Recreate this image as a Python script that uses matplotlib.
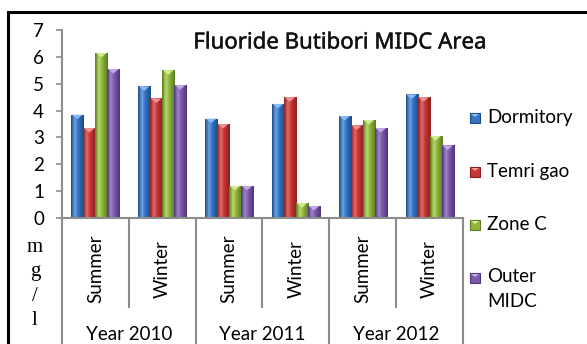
import numpy as np
import matplotlib
matplotlib.use("Agg")
import matplotlib.pyplot as plt
from matplotlib.patches import Rectangle, Polygon
from matplotlib.colors import LinearSegmentedColormap
import matplotlib.transforms as mtransforms
import matplotlib.patheffects as pe

# Fluoride concentration (mg/l) per sampling site, season and year
years = ["Year 2010", "Year 2011", "Year 2012"]
seasons = ["Summer", "Winter", "Summer", "Winter", "Summer", "Winter"]
series_names = ["Dormitory", "Temri gao", "Zone C", "Outer\nMIDC"]
dormitory = [3.85, 4.9, 3.7, 4.25, 3.8, 4.6]
temri_gao = [3.35, 4.45, 3.5, 4.5, 3.45, 4.5]
zone_c = [6.15, 5.5, 1.2, 0.55, 3.65, 3.05]
outer_midc = [5.55, 4.95, 1.2, 0.45, 3.35, 2.7]
y_ticks = [0, 1, 2, 3, 4, 5, 6, 7]

series = [dormitory, temri_gao, zone_c, outer_midc]
# (edge shade, base, highlight, bevel)
palette = [
    ("#1d4a85", "#3474c2", "#6aa3e6", "#8fc0f5"),
    ("#8a1f1f", "#c53636", "#e36a6a", "#f29a9a"),
    ("#5b7a1f", "#8fb53f", "#b9d96d", "#d9f09a"),
    ("#4f357a", "#7c5aa8", "#a384cc", "#c7b0ea"),
]

W, H = 587, 344
fig = plt.figure(figsize=(W / 100, H / 100), dpi=100)
fig.patch.set_facecolor("white")

def fx(px):
    return px / W

def fy(py):
    return 1 - py / H

ax_left, ax_right, ax_top, ax_bottom = 62, 463, 30, 218
ax = fig.add_axes([fx(ax_left), fy(ax_bottom), fx(ax_right - ax_left),
                   (ax_bottom - ax_top) / H])
ax.set_facecolor("none")

text_font = ["Lato", "DejaVu Sans"]
text_size = 13.5
axis_gray = "#8c8c8c"

n_cat = len(seasons)
x = np.arange(n_cat)
bw = 0.18
offsets = (np.arange(4) - 1.5) * bw

xs = np.linspace(0, 1, 64)

for si, (vals, cols) in enumerate(zip(series, palette)):
    edge, base, hi, bevel = cols
    cmap = LinearSegmentedColormap.from_list(
        f"c{si}", [(0, edge), (0.3, hi), (0.55, base), (1, edge)])
    bars = ax.bar(x + offsets[si], vals, width=bw, color=base,
                  edgecolor="none", zorder=2)
    for b, v in zip(bars, vals):
        x0 = b.get_x()
        x1 = x0 + b.get_width()
        im = ax.imshow(xs[None, :], cmap=cmap, aspect="auto",
                       extent=(x0, x1, 0, v), zorder=2.1,
                       interpolation="bilinear")
        im.set_clip_path(b)
        xc = (x0 + x1) / 2
        tri = Polygon([(x0 + 0.01, v), (x1 - 0.01, v), (xc, v - 0.17)],
                      closed=True, facecolor=bevel, edgecolor="none",
                      alpha=0.9, zorder=2.2)
        ax.add_patch(tri)

ax.set_xlim(-0.5, n_cat - 0.5)
ax.set_ylim(0, 7)
ax.set_yticks(y_ticks)
ax.set_yticklabels([str(t) for t in y_ticks], fontsize=text_size,
                   family=text_font)
ax.tick_params(axis="y", length=4, width=1.2, color=axis_gray, pad=9)
ax.set_xticks([])
for s in ("top", "right"):
    ax.spines[s].set_visible(False)
for s in ("left", "bottom"):
    ax.spines[s].set_color(axis_gray)
    ax.spines[s].set_linewidth(1.5)

# Two-level category axis
trans = mtransforms.blended_transform_factory(ax.transData, ax.transAxes)
axis_h = ax_bottom - ax_top

def ay(py):
    return (ax_bottom - py) / axis_h

for i, bnd in enumerate(np.arange(-0.5, n_cat, 1.0)):
    low = ay(350) if i % 2 == 0 else ay(307)
    ax.plot([bnd, bnd], [0, low], transform=trans, color=axis_gray,
            lw=1.5, clip_on=False, zorder=1)

for i, s in enumerate(seasons):
    ax.text(i, ay(269), s, transform=trans, rotation=90, ha="center",
            va="center", fontsize=text_size, family=text_font)

for j, yr in enumerate(years):
    ax.text(2 * j + 0.5, ay(334), yr, transform=trans, ha="center",
            va="center", fontsize=text_size, family=text_font)

# Stacked unit label
fig.text(fx(35), fy(284), "m\ng\n/\nl", ha="center", va="center",
         fontsize=15, family="Liberation Serif", linespacing=1.38)

# Title
fig.text(fx(340), fy(43), "Fluoride Butibori MIDC Area", ha="center",
         va="center", fontsize=16, family=["Noto Sans", "DejaVu Sans"],
         color="#111111",
         path_effects=[pe.withStroke(linewidth=0.3, foreground="#111111")])

# Legend
legend_y = [118, 172, 225, 278]
for (edge, base, hi, bevel), name, ly in zip(palette, series_names, legend_y):
    sq = 10
    fig.patches.append(Rectangle((fx(470), fy(ly + sq / 2)), fx(sq), sq / H,
                                 transform=fig.transFigure, facecolor=base,
                                 edgecolor=edge, lw=0.8))
    fig.patches.append(Polygon([(fx(471), fy(ly - sq / 2 + 1)),
                                (fx(479), fy(ly - sq / 2 + 1)),
                                (fx(475), fy(ly - 1))],
                               transform=fig.transFigure, facecolor=bevel,
                               edgecolor="none"))
    if "\n" in name:
        fig.text(fx(487), fy(ly - 10), name, ha="left", va="top",
                 fontsize=text_size, family=text_font, linespacing=1.55)
    else:
        fig.text(fx(487), fy(ly), name, ha="left", va="center",
                 fontsize=text_size, family=text_font)

# Outer frame
fig.patches.append(Rectangle((fx(8), -0.2), 1.2, fy(12) + 0.2,
                             transform=fig.transFigure, fill=False,
                             edgecolor="black", lw=2.2))

fig.savefig("out.png", dpi=100)
